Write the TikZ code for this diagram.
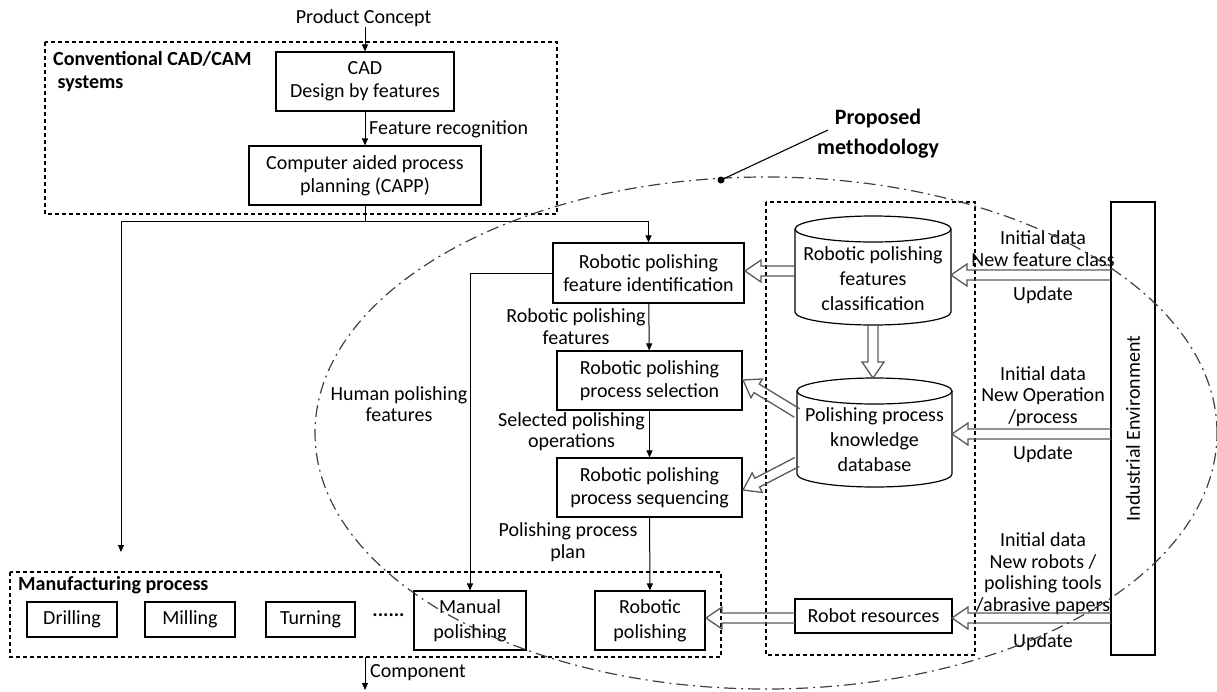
\documentclass[tikz,border=0pt]{standalone}
\usepackage{fontspec}
\setmainfont{Carlito}
\usetikzlibrary{arrows.meta,calc}

\newcommand\boxfont{\fontsize{20}{23}\selectfont}
\newcommand\cylfont{\fontsize{20}{25}\selectfont}
\newcommand\lblfont{\fontsize{20}{21.5}\selectfont}
\newcommand\twofont{\fontsize{20}{25}\selectfont}

% wide outlined arrow from #1 (tail) to #2 (tip)
\newcommand\hollowarrow[2]{%
  \coordinate (hap) at ($(#2)!16pt!(#1)$);
  \draw[hollow] ($(#1)!5pt!90:(#2)$) -- ($(hap)!5pt!90:(#2)$)
    -- ($(hap)!11pt!90:(#2)$) -- (#2) -- ($(hap)!11pt!-90:(#2)$)
    -- ($(hap)!5pt!-90:(#2)$) -- ($(#1)!5pt!-90:(#2)$);
}

\tikzset{
  box/.style={draw, line width=1.1pt, align=center, inner sep=0pt, font=\boxfont},
  lbl/.style={align=center, inner sep=0pt, font=\lblfont},
  arr/.style={-{Triangle[length=7pt,width=6pt]}, line width=1pt},
  group/.style={draw, line width=1.1pt, dash pattern=on 4pt off 3pt},
  hollow/.style={draw=black!65, line width=1.3pt, line join=miter},
  cyl/.style={draw, line width=1.2pt},
  scope line/.style={draw=black!75, line width=1.2pt, dash pattern=on 12pt off 5pt on 2pt off 5pt},
}

\begin{document}
\begin{tikzpicture}[x=1pt,y=1pt]
\useasboundingbox (0,0) rectangle (1217,-691);

% ---------- conventional CAD/CAM ----------
\draw[group] (45,-42) rectangle (557,-214);
\node[anchor=north west, align=left, inner sep=0pt, font=\fontsize{20}{23}\selectfont\bfseries] (convtitle) at (53,-51) {Conventional CAD/CAM\\\hspace*{0.22em}systems};
\node[lbl] (prod) at (363.5,-18) {Product Concept};
\node[box, minimum width=178pt, minimum height=59pt] (cad) at (365,-81.5) {CAD\\Design by features};
\node[box, minimum width=232pt, minimum height=59pt] (capp) at (365,-175.5) {Computer aided process\\planning (CAPP)};
\node[lbl, anchor=west] (featrec) at (369,-129) {Feature recognition};

\draw[arr] (cad.north |- prod.south) -- (cad.north);
\draw[arr] (cad) -- (capp);

% ---------- proposed methodology ----------
\node[box, minimum width=191pt, minimum height=60pt] (fi) at (648.5,-273) {Robotic polishing\\feature identification};
\node[box, minimum width=185pt, minimum height=59pt] (sel) at (649.5,-380.5) {Robotic polishing\\process selection};
\node[box, minimum width=185pt, minimum height=59pt] (seq) at (649.5,-487.5) {Robotic polishing\\process sequencing};

\node[lbl] (rpf) at (576,-326.5) {Robotic polishing\\features};
\node[lbl] (selops) at (571.5,-431.5) {Selected polishing\\operations};
\node[lbl] (ppp) at (568,-542) {Polishing process\\plan};
\node[lbl] (hpf) at (399,-404) {Human polishing\\features};

\coordinate (split) at (365,-221);
\coordinate (mfgin) at (121,-552);
\draw[line width=1pt] (capp.south) -- (split);
\draw[arr] (split) -| (fi.north);
\draw[arr] (split) -| (mfgin);
\draw[arr] (fi) -- (sel);
\draw[arr] (sel) -- (seq);

% ---------- knowledge group ----------
\draw[group] (766,-202) rectangle (975,-655);

\draw[cyl] (795,-229) -- (795,-312) arc[start angle=180, end angle=360, x radius=78, y radius=13] -- (951,-229);
\draw[cyl] (873,-229) ellipse[x radius=78, y radius=13];
\node[align=center, inner sep=0pt, font=\cylfont] (cyl1) at (873,-279) {Robotic polishing\\features\\classification};

\draw[cyl] (797,-391) -- (797,-474) arc[start angle=180, end angle=360, x radius=77.5, y radius=13] -- (952,-391);
\draw[cyl] (874.5,-391) ellipse[x radius=77.5, y radius=13];
\node[align=center, inner sep=0pt, font=\cylfont] (cyl2) at (874.5,-440) {Polishing process\\knowledge\\database};

\node[box, minimum width=157pt, minimum height=34pt] (robres) at (873.5,-616) {Robot resources};

% ---------- industrial environment ----------
\node[box, minimum width=44pt, minimum height=453pt] (ind) at (1133,-428.5) {};
\node[rotate=90, inner sep=0pt, font=\boxfont] (indtext) at (ind.center) {Industrial Environment};

\node[lbl] (in1) at (1043,-248.5) {Initial data\\New feature class};
\node[lbl] (up1) at (1043,-295) {Update};
\node[lbl] (in2) at (1043,-396.5) {Initial data\\New Operation\\/process};
\node[lbl] (up2) at (1043,-454) {Update};
\node[lbl] (in3) at (1043,-573.5) {Initial data\\New robots /\\polishing tools\\/abrasive papers};
\node[lbl] (up3) at (1043,-642) {Update};

% ---------- manufacturing process ----------
\draw[group] (10,-572) rectangle (721,-657);
\node[anchor=west, inner sep=0pt, font=\fontsize{20}{23}\selectfont\bfseries] (mfgtitle) at (18,-585) {Manufacturing process};
\node[box, minimum width=90pt, minimum height=35pt] (drill) at (72,-619.5) {Drilling};
\node[box, minimum width=90pt, minimum height=35pt] (mill) at (190,-619.5) {Milling};
\node[box, minimum width=89pt, minimum height=35pt] (turn) at (310.5,-619.5) {Turning};
\node[inner sep=0pt, font=\boxfont\bfseries] (dots) at (388.5,-615) {......};
\node[box, minimum width=112pt, minimum height=59pt, font=\twofont] (manual) at (470,-620.5) {Manual\\polishing};
\node[box, minimum width=110pt, minimum height=59pt, font=\twofont] (robpol) at (650,-620.5) {Robotic\\polishing};

\draw[arr] (fi.west) -| (manual.north);
\draw[arr] (seq) -- (robpol);

\coordinate (mfgout) at (365,-657);
\coordinate (compend) at (365,-690);
\draw[arr] (mfgout) -- (compend);
\node[lbl, anchor=west] (comp) at (370,-673) {Component};

% ---------- outlined data-flow arrows ----------
\coordinate (c1w) at (795,-271);  \coordinate (fie) at (745,-271);
\coordinate (c1s) at (873,-325);  \coordinate (c2n) at (873,-378);
\coordinate (c2a) at (797,-413);  \coordinate (sele) at (743,-380);
\coordinate (c2b) at (797,-462);  \coordinate (seqe) at (743,-490);
\coordinate (rrw) at (795,-618);  \coordinate (rpe) at (706,-618);
\coordinate (ind1) at (1111,-275); \coordinate (c1e) at (951,-275);
\coordinate (ind2) at (1111,-434); \coordinate (c2e) at (952,-434);
\coordinate (ind3) at (1111,-618); \coordinate (rre) at (952,-618);
\hollowarrow{c1w}{fie}
\hollowarrow{c1s}{c2n}
\hollowarrow{c2a}{sele}
\hollowarrow{c2b}{seqe}
\hollowarrow{rrw}{rpe}
\hollowarrow{ind1}{c1e}
\hollowarrow{ind2}{c2e}
\hollowarrow{ind3}{rre}

% ---------- scope of the proposed methodology ----------
\draw[scope line] (766,-433) ellipse[x radius=451, y radius=256];
\node[align=center, inner sep=0pt, font=\fontsize{22}{30}\selectfont\bfseries] (pm) at (878,-134) {Proposed\\methodology};
\coordinate (pmlead) at (828,-130);
\coordinate (pmdot) at (721,-180);
\draw[line width=1.1pt] (pmlead) -- (pmdot);
\fill (pmdot) circle[radius=3.5pt];

\end{tikzpicture}
\end{document}
